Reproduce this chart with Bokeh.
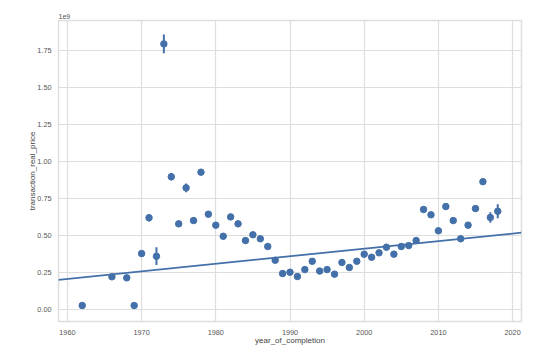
from bokeh.plotting import figure
from bokeh.models import ColumnDataSource, Range1d, NumeralTickFormatter, FixedTicker
from bokeh.embed import file_html
from bokeh.resources import INLINE

# year of completion and mean transaction_real_price (in units of 1e9)
years = [1962, 1966, 1968, 1969, 1970, 1971, 1972, 1973, 1974, 1975, 1976, 1977, 1978,
         1979, 1980, 1981, 1982, 1983, 1984, 1985, 1986, 1987, 1988, 1989, 1990, 1991,
         1992, 1993, 1994, 1995, 1996, 1997, 1998, 1999, 2000, 2001, 2002, 2003, 2004,
         2005, 2006, 2007, 2008, 2009, 2010, 2011, 2012, 2013, 2014, 2015, 2016, 2017, 2018]
price = [0.027, 0.221, 0.214, 0.027, 0.378, 0.620, 0.360, 1.795, 0.897, 0.579, 0.822, 0.601, 0.928,
         0.644, 0.570, 0.495, 0.626, 0.579, 0.466, 0.505, 0.478, 0.426, 0.333, 0.243, 0.252, 0.223,
         0.270, 0.326, 0.260, 0.270, 0.239, 0.318, 0.284, 0.326, 0.374, 0.353, 0.383, 0.421, 0.374,
         0.426, 0.432, 0.466, 0.676, 0.640, 0.532, 0.696, 0.601, 0.478, 0.570, 0.682, 0.864, 0.622, 0.664]
ci_half = [0.005, 0.008, 0.008, 0.005, 0.012, 0.025, 0.060, 0.063, 0.025, 0.018, 0.030, 0.012, 0.010,
           0.010, 0.010, 0.010, 0.010, 0.010, 0.010, 0.010, 0.010, 0.010, 0.010, 0.008, 0.008, 0.008,
           0.008, 0.008, 0.008, 0.008, 0.008, 0.008, 0.008, 0.008, 0.008, 0.008, 0.008, 0.008, 0.008,
           0.008, 0.008, 0.010, 0.012, 0.012, 0.012, 0.012, 0.012, 0.012, 0.012, 0.012, 0.012, 0.035, 0.047]

# linear regression fit (value at 1990 and slope per year)
reg_at_1990 = 0.36
reg_slope = 0.0051

x_ticks = [1960, 1970, 1980, 1990, 2000, 2010, 2020]
y_ticks = [0.0, 0.25, 0.5, 0.75, 1.0, 1.25, 1.5, 1.75]

x_start, x_end = 1958.8, 2021.2
y_start, y_end = -0.081, 1.953

blue = "#4470a9"
grid = "#dedede"
txt = "#555555"

src = ColumnDataSource(dict(
    x=years, y=price,
    lo=[p - c for p, c in zip(price, ci_half)],
    hi=[p + c for p, c in zip(price, ci_half)],
))

p = figure(frame_width=463, frame_height=301, output_backend="svg", toolbar_location=None,
           x_range=Range1d(x_start, x_end), y_range=Range1d(y_start, y_end),
           min_border_left=58, min_border_right=8, min_border_top=20, min_border_bottom=30,
           title="1e9")

p.title.text_font = "Liberation Sans"
p.title.text_font_size = "7px"
p.title.text_font_style = "normal"
p.title.text_color = txt
p.title.align = "left"
p.title.standoff = 3

p.background_fill_color = "white"
p.border_fill_color = "white"
p.outline_line_color = grid
p.outline_line_width = 1.5

for ax in (p.xaxis[0], p.yaxis[0]):
    ax.axis_line_color = None
    ax.major_tick_line_color = None
    ax.minor_tick_line_color = None
    ax.major_label_text_color = txt
    ax.major_label_text_font = "Liberation Sans"
    ax.major_label_text_font_size = "7.3px"
    ax.axis_label_text_font = "Liberation Sans"
    ax.axis_label_text_font_style = "normal"
    ax.axis_label_text_font_size = "8px"
    ax.axis_label_text_color = "#444444"

p.xaxis.ticker = FixedTicker(ticks=x_ticks)
p.yaxis.ticker = FixedTicker(ticks=y_ticks)
p.yaxis.formatter = NumeralTickFormatter(format="0.00")
p.xaxis.axis_label = "year_of_completion"
p.yaxis.axis_label = "transaction_real_price"
p.xaxis.major_label_standoff = 2
p.xaxis.axis_label_standoff = -2
p.yaxis.major_label_standoff = 1
p.yaxis.axis_label_standoff = -3

p.xgrid.grid_line_color = grid
p.ygrid.grid_line_color = grid
p.xgrid.grid_line_width = 1.2
p.ygrid.grid_line_width = 1.2

# regression line
lx = [x_start, x_end]
ly = [reg_at_1990 + reg_slope * (v - 1990) for v in lx]
p.line(lx, ly, line_color=blue, line_width=1.8)

# error bars + points
p.segment(x0="x", y0="lo", x1="x", y1="hi", source=src, line_color=blue, line_width=2)
p.scatter(x="x", y="y", source=src, size=6.5, fill_color=blue, line_color=blue)

open("out.html", "w").write(file_html(p, INLINE))
